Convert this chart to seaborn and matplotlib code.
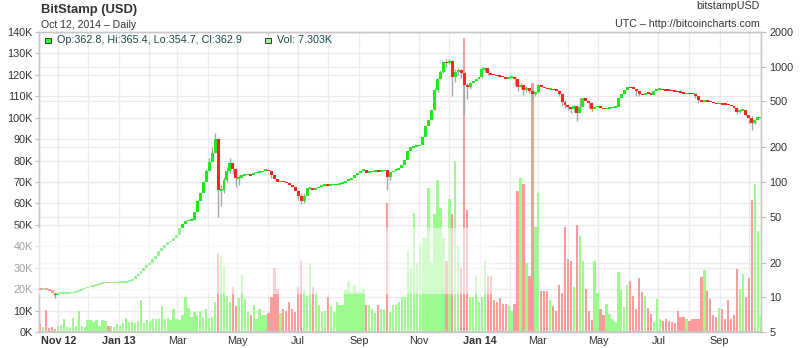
import numpy as np
import pandas as pd
import matplotlib
matplotlib.use("Agg")
import matplotlib.pyplot as plt
import matplotlib.dates as mdates
import matplotlib.transforms as mtransforms
from matplotlib.lines import Line2D
from matplotlib.patches import Rectangle
import seaborn as sns

# ---------------------------------------------------------------- data
start_date = "2012-10-12"
bin_days = 3          # one candle / volume bar per three trading days
first_open = 11.9

# closing price (USD) of every 3-day candle
closes = [
    11.8, 11.8, 11.7, 11.5, 11.0, 10.5, 10.8, 10.9, 10.9, 10.9,
    11.0, 11.0, 11.2, 11.4, 11.7, 12.1, 12.3, 12.5, 12.6, 12.9,
    13.2, 13.4, 13.5, 13.4, 13.4, 13.4, 13.5, 13.5, 13.6, 13.7,
    14.0, 14.4, 15.2, 15.9, 17.0, 18.0, 19.2, 20.0, 21.5, 23.0,
    25.0, 26.5, 28.5, 30.0, 31.0, 32.5, 34.5, 40.0, 43.0, 46.0,
    46.5, 47.0, 55, 68, 80, 100, 125, 150, 180, 235,
    85, 85, 105, 125, 145, 130, 108, 108, 115, 116,
    117, 114, 119, 122, 122, 125, 128, 124, 115, 106,
    100, 102, 100, 98, 94, 90, 84, 76, 68, 76,
    88, 89, 86, 88, 91, 93, 95, 94, 95, 95,
    96, 97, 99, 102, 105, 108, 114, 120, 125, 128,
    120, 123, 124, 125, 124, 125, 126, 110, 122, 125,
    128, 132, 140, 155, 185, 200, 204, 205, 210, 245,
    305, 345, 420, 630, 790, 900, 1100, 1080, 1130, 820,
    900, 940, 875, 690, 670, 720, 750, 780, 815, 950,
    970, 875, 860, 850, 835, 830, 810, 795, 810, 815,
    785, 670, 700, 630, 650, 620, 585, 600, 700, 670,
    650, 640, 640, 630, 620, 585, 497, 470, 450, 430,
    455, 395, 450, 530, 500, 480, 430, 445, 455, 435,
    430, 440, 440, 445, 450, 530, 585, 630, 665, 655,
    645, 620, 580, 570, 595, 585, 570, 610, 640, 640,
    632, 630, 625, 620, 612, 605, 595, 585, 588, 585,
    582, 555, 510, 500, 505, 500, 497, 485, 478, 478,
    475, 472, 465, 458, 440, 405, 418, 420, 385, 360,
    325, 345, 362.8, 362.9,
]

# traded volume (thousand BTC) of every 3-day bar
volumes_k = [
    3.9, 2.5, 10.1, 2.0, 2.5, 1.5, 3.0, 3.5, 6.2, 2.5,
    2.0, 6.5, 3.0, 9.6, 3.0, 2.5, 5.4, 5.4, 4.5, 5.8,
    3.0, 5.4, 5.0, 3.0, 3.0, 2.5, 3.9, 3.0, 4.0, 6.5,
    4.5, 4.5, 4.0, 5.0, 14.8, 4.0, 5.4, 5.0, 6.2, 6.0,
    6.2, 12.0, 6.0, 6.5, 5.5, 10.6, 6.0, 5.8, 8.0, 16.2,
    11.2, 7.0, 9.3, 8.0, 9.6, 7.0, 10.6, 6.5, 7.0, 14.0,
    37.0, 35.8, 31.0, 17.0, 14.0, 21.0, 12.0, 16.0, 27.0, 15.5,
    9.3, 8.0, 12.4, 6.2, 10.9, 7.8, 7.8, 9.0, 16.3, 30.0,
    20.0, 9.0, 10.9, 10.0, 14.0, 10.9, 9.3, 21.0, 33.0, 19.4,
    17.0, 32.0, 21.0, 18.0, 12.4, 9.3, 10.0, 16.3, 12.0, 9.3,
    14.0, 12.4, 12.4, 19.4, 24.0, 18.7, 21.8, 18.7, 18.7, 20.2,
    12.4, 12.4, 10.9, 9.0, 12.4, 10.9, 10.9, 60.0, 9.3, 12.4,
    12.4, 14.0, 16.5, 16.5, 38.0, 30.0, 55.7, 32.0, 41.0, 44.0,
    44.0, 67.0, 32.0, 55.0, 71.0, 58.0, 44.0, 33.0, 62.0, 55.0,
    80.0, 40.0, 30.0, 137.0, 57.0, 16.5, 16.5, 26.0, 14.0, 16.5,
    33.5, 26.0, 26.0, 15.0, 14.0, 16.0, 13.0, 13.0, 12.0, 10.0,
    13.0, 66.0, 72.0, 69.0, 32.0, 26.0, 116.0, 49.0, 65.0, 19.0,
    19.0, 19.0, 15.0, 12.0, 10.0, 22.0, 18.0, 49.0, 34.0, 33.0,
    21.0, 50.0, 45.0, 33.0, 20.0, 10.0, 5.5, 33.0, 18.4, 10.9,
    7.8, 13.2, 8.6, 6.2, 4.7, 28.0, 19.5, 11.7, 22.0, 24.0,
    17.0, 10.9, 25.0, 18.7, 17.0, 11.0, 8.6, 4.7, 15.5, 6.2,
    5.0, 6.0, 5.0, 4.7, 4.0, 10.0, 7.0, 7.0, 6.0, 5.0,
    6.0, 6.2, 6.2, 25.7, 28.8, 19.0, 15.6, 8.0, 7.0, 11.3,
    10.9, 6.0, 14.8, 6.2, 8.0, 29.6, 20.2, 27.0, 16.3, 25.0,
    61.5, 69.0, 47.0, 7.303,
]

# candles with visible shadows: index -> (low, high)
wicks = {
    5: (9.9, 11.1), 56: (110, 130), 57: (130, 160), 58: (160, 200),
    59: (178, 266), 60: (50, 240), 61: (62, 95), 62: (80, 110),
    63: (100, 135), 64: (120, 160), 65: (118, 150), 66: (90, 132),
    67: (95, 115), 78: (108, 125), 87: (70, 86), 88: (64, 80),
    89: (66, 80), 117: (85, 127), 118: (105, 124), 133: (420, 660),
    134: (600, 800), 135: (780, 930), 136: (880, 1130), 137: (1000, 1163),
    138: (1050, 1163), 139: (560, 1140), 140: (740, 960), 141: (850, 980),
    142: (800, 950), 143: (380, 880), 144: (520, 720), 145: (640, 740),
    149: (800, 1000), 150: (900, 1000), 151: (840, 960), 160: (690, 830),
    161: (620, 790), 162: (640, 720), 163: (570, 700), 164: (600, 680),
    165: (590, 660), 166: (510, 640), 167: (560, 610), 168: (590, 710),
    175: (560, 625), 176: (460, 590), 177: (440, 510), 178: (420, 470),
    179: (400, 445), 180: (405, 470), 181: (335, 460), 182: (440, 540),
    183: (480, 540), 185: (440, 500), 186: (410, 490), 201: (560, 640),
    202: (560, 620), 221: (540, 590), 222: (480, 560), 235: (390, 445),
    236: (395, 425), 238: (370, 400), 239: (320, 385), 240: (285, 370),
    241: (320, 350), 243: (354.7, 365.4),
}

last_candle = {"Op": 362.8, "Hi": 365.4, "Lo": 354.7, "Cl": 362.9}
last_volume = "7.303K"

vol_ticks = list(range(0, 140001, 10000))
price_ticks = [5, 10, 20, 50, 100, 200, 500, 1000, 2000]
tick_dates = ["2012-11-01", "2013-01-01", "2013-03-01", "2013-05-01",
              "2013-07-01", "2013-09-01", "2013-11-01", "2014-01-01",
              "2014-03-01", "2014-05-01", "2014-07-01", "2014-09-01"]
tick_labels = ["Nov 12", "Jan 13", "Mar", "May", "Jul", "Sep",
               "Nov", "Jan 14", "Mar", "May", "Jul", "Sep"]
bold_labels = {"Nov 12", "Jan 13", "Jan 14"}

# ---------------------------------------------------------------- style
sns.set_theme(style="white")
plt.rcParams["font.family"] = ["Liberation Sans", "DejaVu Sans"]

UP, DOWN = "#1fe81f", "#ff2424"
VOL_UP, VOL_DOWN = "#9dfa8f", "#fb9b9b"
WICK = "#a8a8a8"
GRID = "#ebebeb"
AXIS = "#c8c8c8"
TXT = "#333333"

W, H = 800, 348
fig = plt.figure(figsize=(W / 100, H / 100), dpi=100)
fig.patch.set_facecolor("white")
L, R, T, B = 38.5, 760.5, 32, 332
ax = fig.add_axes([L / W, 1 - B / H, (R - L) / W, (B - T) / H])
ax2 = ax.twinx()

# ---------------------------------------------------------------- geometry
n = len(closes)
t0 = mdates.date2num(pd.Timestamp(start_date))
left_edges = t0 + bin_days * np.arange(n)
centers = left_edges + bin_days / 2
opens = np.array([first_open] + closes[:-1])
cl = np.array(closes)
up = cl >= opens

# ---------------------------------------------------------------- volume
df = pd.DataFrame({
    "t": centers,
    "vol": np.array(volumes_k) * 1000,
    "dir": np.where(up, "up", "down"),
})
sns.barplot(data=df, x="t", y="vol", hue="dir",
            palette={"up": VOL_UP, "down": VOL_DOWN},
            native_scale=True, dodge=False, width=0.78, errorbar=None,
            saturation=1, linewidth=0, legend=False, ax=ax, zorder=2)

# ---------------------------------------------------------------- candles
ax2.set_yscale("log")
ax2.set_ylim(5, 2000)
for i, (lo, hi) in wicks.items():
    ax2.vlines(centers[i], lo, hi, color=WICK, lw=1.0, zorder=2)

lo_body = np.minimum(opens, cl)
hi_body = np.maximum(opens, cl)
min_ratio = 1.032
g = np.sqrt(lo_body * hi_body)
thin = hi_body / lo_body < min_ratio
lo_body = np.where(thin, g / np.sqrt(min_ratio), lo_body)
hi_body = np.where(thin, g * np.sqrt(min_ratio), hi_body)
ax2.bar(left_edges, hi_body - lo_body, bottom=lo_body, width=bin_days,
        align="edge", color=np.where(up, UP, DOWN), linewidth=0, zorder=3)

# ---------------------------------------------------------------- axes
ax.set_xlim(t0 - 0.2, t0 + 730.3)
ax.set_ylim(0, 140000)
ax.set_xlabel("")
ax.set_ylabel("")
ax2.set_ylabel("")

ax.set_yticks(vol_ticks)
ax.set_yticklabels([f"{v // 1000}K" for v in vol_ticks])
ax2.set_yticks(price_ticks)
ax2.set_yticklabels([str(v) for v in price_ticks])
ax2.yaxis.set_minor_locator(matplotlib.ticker.NullLocator())

tick_nums = [mdates.date2num(pd.Timestamp(d)) for d in tick_dates]
ax.set_xticks(tick_nums)
ax.set_xticklabels(tick_labels)
for lab in ax.get_xticklabels():
    if lab.get_text() in bold_labels:
        lab.set_fontweight("bold")

ax.tick_params(axis="y", which="major", left=True, length=3, width=0.8,
               color="#bdbdbd", pad=1, labelsize=7.8, labelcolor=TXT)
ax2.tick_params(axis="y", which="major", right=True, length=3.5, width=0.8,
                color="#bdbdbd", pad=3, labelsize=7.8, labelcolor=TXT)
ax.tick_params(axis="x", length=0, pad=3, labelsize=7.8, labelcolor=TXT)

for a in (ax, ax2):
    for s in a.spines.values():
        s.set_color(AXIS)
        s.set_linewidth(1.0)
ax.spines["bottom"].set_linewidth(1.3)

# grid: monthly verticals, volume levels, price levels (all behind bars)
for m in pd.date_range("2012-11-01", "2014-10-01", freq="MS"):
    ax.axvline(mdates.date2num(m), color=GRID, lw=1.0, zorder=0)
for v in vol_ticks[1:]:
    ax.axhline(v, color=GRID, lw=1.0, zorder=0)
price_tr = mtransforms.blended_transform_factory(ax.transAxes, ax2.transData)
for v in price_ticks[1:-1]:
    ax.add_artist(Line2D([0, 1], [v, v], transform=price_tr,
                         color=GRID, lw=1.0, zorder=0))

# ---------------------------------------------------------------- header
def px(x, y):
    return x / W, 1 - y / H

fig.text(*px(41, 12.6), "BitStamp (USD)", fontsize=9.4, fontweight="bold",
         color=TXT, va="baseline")
fig.text(*px(41, 28), "Oct 12, 2014 \u2013 Daily", fontsize=7.6,
         color=TXT, va="baseline")
fig.text(*px(760, 9.3), "bitstampUSD", fontsize=7.7, color=TXT,
         ha="right", va="baseline")
fig.text(*px(760, 26.7), "UTC \u2013 http://bitcoincharts.com", fontsize=7.7,
         color=TXT, ha="right", va="baseline")

LEG = "#184848"
fig.add_artist(Rectangle(px(45, 43.3), 6 / W, 5.6 / H, transform=fig.transFigure,
                         facecolor="#33ff33", edgecolor="#234023", lw=0.7, zorder=6))
fig.text(*px(57.5, 43.3),
         ", ".join(f"{k}:{v}" for k, v in last_candle.items()),
         fontsize=7.75, color=LEG, va="baseline", zorder=6)
fig.add_artist(Rectangle(px(265, 43.3), 6 / W, 5.6 / H, transform=fig.transFigure,
                         facecolor="#a3f59a", edgecolor="#234023", lw=0.7, zorder=6))
fig.text(*px(277, 43.3), f"Vol: {last_volume}", fontsize=7.75, color=LEG,
         va="baseline", zorder=6)

# translucent watermark band across the lower left of the chart
fig.add_artist(Rectangle(px(0, 294), 495 / W, 66 / H, transform=fig.transFigure,
                         facecolor="white", alpha=0.55, lw=0, zorder=5))

fig.savefig("out.png", dpi=100)
